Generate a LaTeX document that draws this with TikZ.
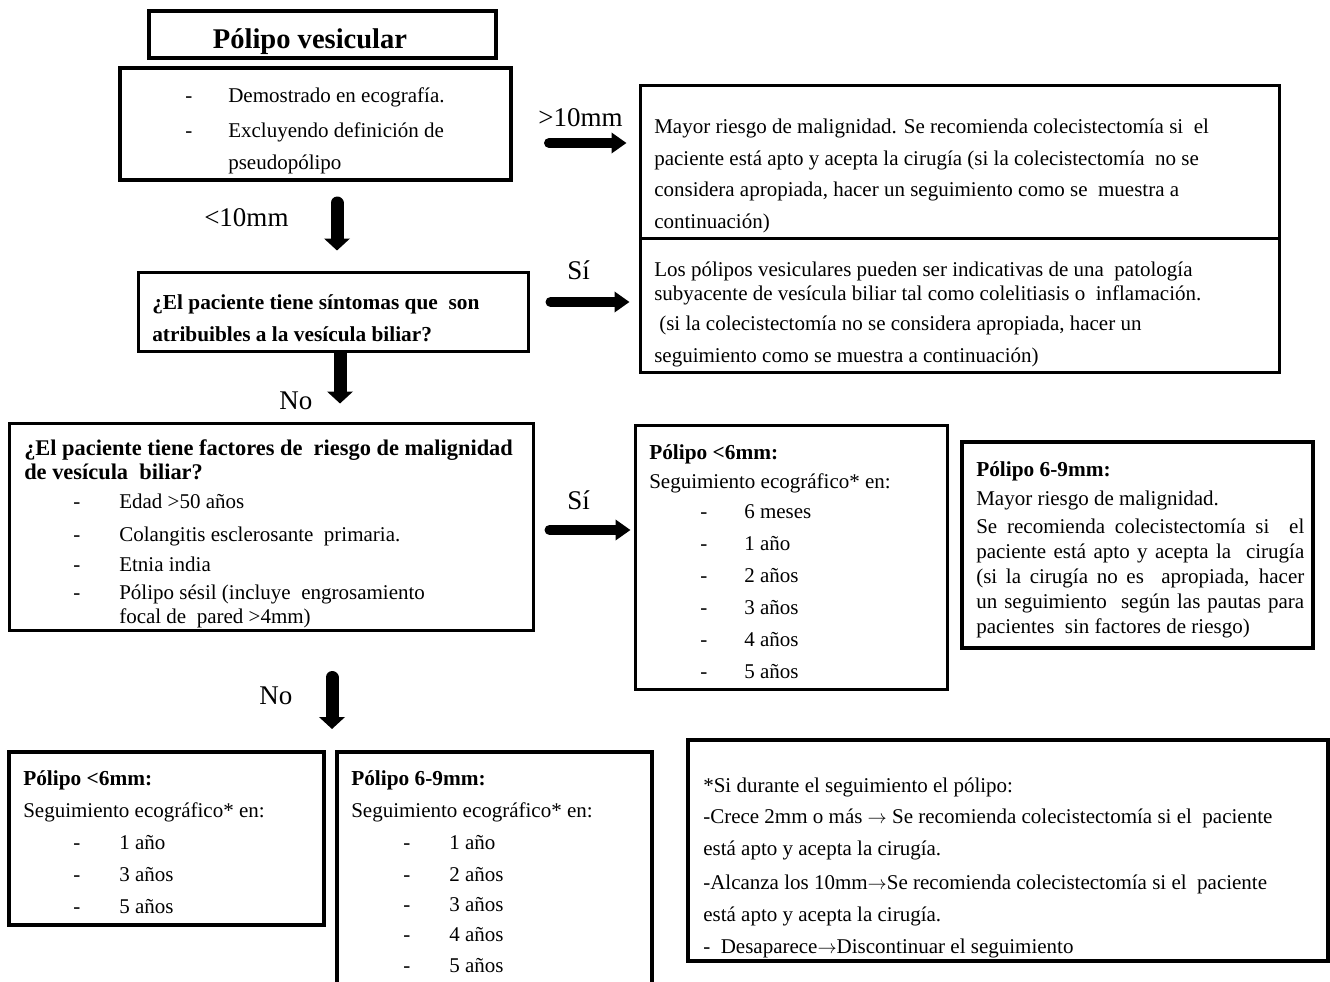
\documentclass[tikz,border=0pt]{standalone}
\usepackage{fontspec}
\setmainfont{Liberation Serif}
\usetikzlibrary{arrows.meta,fit}
\tikzset{
  box/.style={draw, line width=2.25pt, inner sep=0pt},
  tbox/.style={draw, line width=3pt, inner sep=0pt},
  t/.style={anchor=base west, inner sep=0pt, font=\fontsize{15.75}{18}\selectfont},
  tb/.style={anchor=base west, inner sep=0pt, font=\fontsize{16}{18}\selectfont\bfseries},
  tbl/.style={anchor=base west, inner sep=0pt, font=\fontsize{16.8}{18}\selectfont\bfseries},
  lab/.style={anchor=base west, inner sep=0pt, font=\fontsize{20.25}{24}\selectfont},
  harr/.style={line width=7.5pt, line cap=round, -{Triangle[width=15pt,length=11.25pt]}},
  varr/.style={line width=9.75pt, line cap=round, -{Triangle[width=19pt,length=9pt]}}
}
\begin{document}
\begin{tikzpicture}[x=0.75pt,y=-0.75pt]
\useasboundingbox (0,0) rectangle (1330,981);
% boxes
\node[tbox, fit={(149,11) (496,58)}] (title) {};
\node[tbox, fit={(120,68) (511,180)}] (b2) {};
\node[box, fit={(640,85) (1279,238)}] (r1) {};
\node[box, fit={(640,238) (1279,372)}] (r2) {};
\node[box, fit={(138,272) (528,351)}] (q) {};
\node[box, fit={(9,423) (533,630)}] (risk) {};
\node[box, fit={(635,425) (947,689)}] (s6) {};
\node[tbox, fit={(962,442) (1313,648)}] (s69) {};
\node[tbox, fit={(9,752) (324,925)}] (bl) {};
\node[tbox, fit={(337,752) (652,1000)}] (bm) {};
\node[tbox, fit={(688,740) (1328,961)}] (fn) {};
% title
\node[anchor=base, inner sep=0pt, font=\fontsize{21.4}{24}\selectfont\bfseries] (titletext) at (310,49) {Pólipo vesicular};
% box 2
\node[t] (b2d1) at (185,103) {-};
\node[t] (b2l1) at (228,103) {Demostrado en ecografía.};
\node[t] (b2d2) at (185,137) {-};
\node[t] (b2l2) at (228,137) {Excluyendo definición de};
\node[t] (b2l3) at (228,169) {pseudopólipo};
% right box 1
\node[t] (r1l1) at (654,133) {Mayor riesgo de malignidad. Se recomienda colecistectomía si\ \ el};
\node[t] (r1l2) at (654,165) {paciente está apto y acepta la cirugía (si la colecistectomía\ \ no se};
\node[t] (r1l3) at (654,196) {considera apropiada, hacer un seguimiento como se\ \ muestra a};
\node[t] (r1l4) at (654,228) {continuación)};
% right box 2
\node[t] (r2l1) at (654,276) {Los pólipos vesiculares pueden ser indicativas de una\ \ patología};
\node[t] (r2l2) at (654,300) {subyacente de vesícula biliar tal como colelitiasis o\ \ inflamación.};
\node[t] (r2l3) at (659,330) {(si la colecistectomía no se considera apropiada, hacer un};
\node[t] (r2l4) at (654,362) {seguimiento como se muestra a continuación)};
% question
\node[tb] (ql1) at (152,309) {¿El paciente tiene síntomas que\ \ son};
\node[tb] (ql2) at (152,341) {atribuibles a la vesícula biliar?};
% risk
\node[tbl] (rk1) at (24,455) {¿El paciente tiene factores de\ \ riesgo de malignidad};
\node[tbl] (rk2) at (24,479) {de vesícula\ \ biliar?};
\node[t] (rkd1) at (73,508) {-};
\node[t] (rkt1) at (119,508) {Edad >50 años};
\node[t] (rkd2) at (73,541) {-};
\node[t] (rkt2) at (119,541) {Colangitis esclerosante\ \ primaria.};
\node[t] (rkd3) at (73,571) {-};
\node[t] (rkt3) at (119,571) {Etnia india};
\node[t] (rkd4) at (73,599) {-};
\node[t] (rkt4) at (119,599) {Pólipo sésil (incluye\ \ engrosamiento};
\node[t] (rkt5) at (119,623) {focal de\ \ pared >4mm)};
% s6 right
\node[tb] (s6h) at (649,459) {Pólipo <6mm:};
\node[t] (s6s) at (649,488) {Seguimiento ecográfico* en:};
\foreach \yy/\tx [count=\i] in {518/6 meses,550/1 año,582/2 años,614/3 años,646/4 años,678/5 años}{
  \node[t] (s6d\i) at (700,\yy) {-};
  \node[t] (s6t\i) at (744,\yy) {\tx};
}
% s69 right
\node[tb] (s69h) at (976,476) {Pólipo 6-9mm:};
\node[t] (s69l1) at (976,505) {Mayor riesgo de malignidad.};
\node[t] (s69l2) at (976,533) {\makebox[246pt][s]{Se recomienda colecistectomía si\ \ el}};
\node[t] (s69l3) at (976,558) {\makebox[246pt][s]{paciente está apto y acepta la\ \ cirugía}};
\node[t] (s69l4) at (976,583) {\makebox[246pt][s]{(si la cirugía no es\ \ apropiada, hacer}};
\node[t] (s69l5) at (976,608) {\makebox[246pt][s]{un seguimiento\ \ según las pautas para}};
\node[t] (s69l6) at (976,633) {pacientes\ \ sin factores de riesgo)};
% bottom left
\node[tb] (blh) at (23,785) {Pólipo <6mm:};
\node[t] (bls) at (23,817) {Seguimiento ecográfico* en:};
\foreach \yy/\tx [count=\i] in {849/1 año,881/3 años,913/5 años}{
  \node[t] (bld\i) at (73,\yy) {-};
  \node[t] (blt\i) at (119,\yy) {\tx};
}
% bottom middle
\node[tb] (bmh) at (351,785) {Pólipo 6-9mm:};
\node[t] (bms) at (351,817) {Seguimiento ecográfico* en:};
\foreach \yy/\tx [count=\i] in {849/1 año,881/2 años,911/3 años,941/4 años,972/5 años}{
  \node[t] (bmd\i) at (403,\yy) {-};
  \node[t] (bmt\i) at (449,\yy) {\tx};
}
% footnote
\node[t] (fn1) at (703,792) {*Si durante el seguimiento el pólipo:};
\node[t] (fn2) at (703,823) {-Crece 2mm o más $\rightarrow$ Se recomienda colecistectomía si el\ \ paciente};
\node[t] (fn3) at (703,855) {está apto y acepta la cirugía.};
\node[t] (fn4) at (703,889) {-Alcanza los 10mm$\rightarrow$Se recomienda colecistectomía si el\ \ paciente};
\node[t] (fn5) at (703,921) {está apto y acepta la cirugía.};
\node[t] (fn6) at (703,953) {-\ \ Desaparece$\rightarrow$Discontinuar el seguimiento};
% arrows
\coordinate (nofree) at (332,729);
\draw[harr, shorten <=27pt, shorten >=9pt] (b2.east |- 0,143) -- (r1.west |- 0,143);
\draw[varr, shorten <=15.75pt, shorten >=15pt] (337,0 |- b2.south) -- (337,0 |- q.north);
\draw[harr, shorten <=15.75pt, shorten >=6.75pt] (q.east |- 0,302) -- (r2.west |- 0,302);
\draw[varr, line cap=butt, shorten >=13.5pt] (340,0 |- q.south) -- (340,0 |- risk.north);
\draw[harr, shorten <=11.25pt, shorten >=2.25pt] (risk.east |- 0,530) -- (s6.west |- 0,530);
\draw[varr, shorten <=34.5pt] (332,0 |- risk.south) -- (nofree);
% arrow labels
\node[lab] (l10a) at (538,126) {>10mm};
\node[lab] (l10b) at (204,226) {<10mm};
\node[lab] (lsi1) at (567,279) {Sí};
\node[lab] (lno1) at (279,409) {No};
\node[lab] (lsi2) at (567,509) {Sí};
\node[lab] (lno2) at (259,704) {No};
\end{tikzpicture}
\end{document}
